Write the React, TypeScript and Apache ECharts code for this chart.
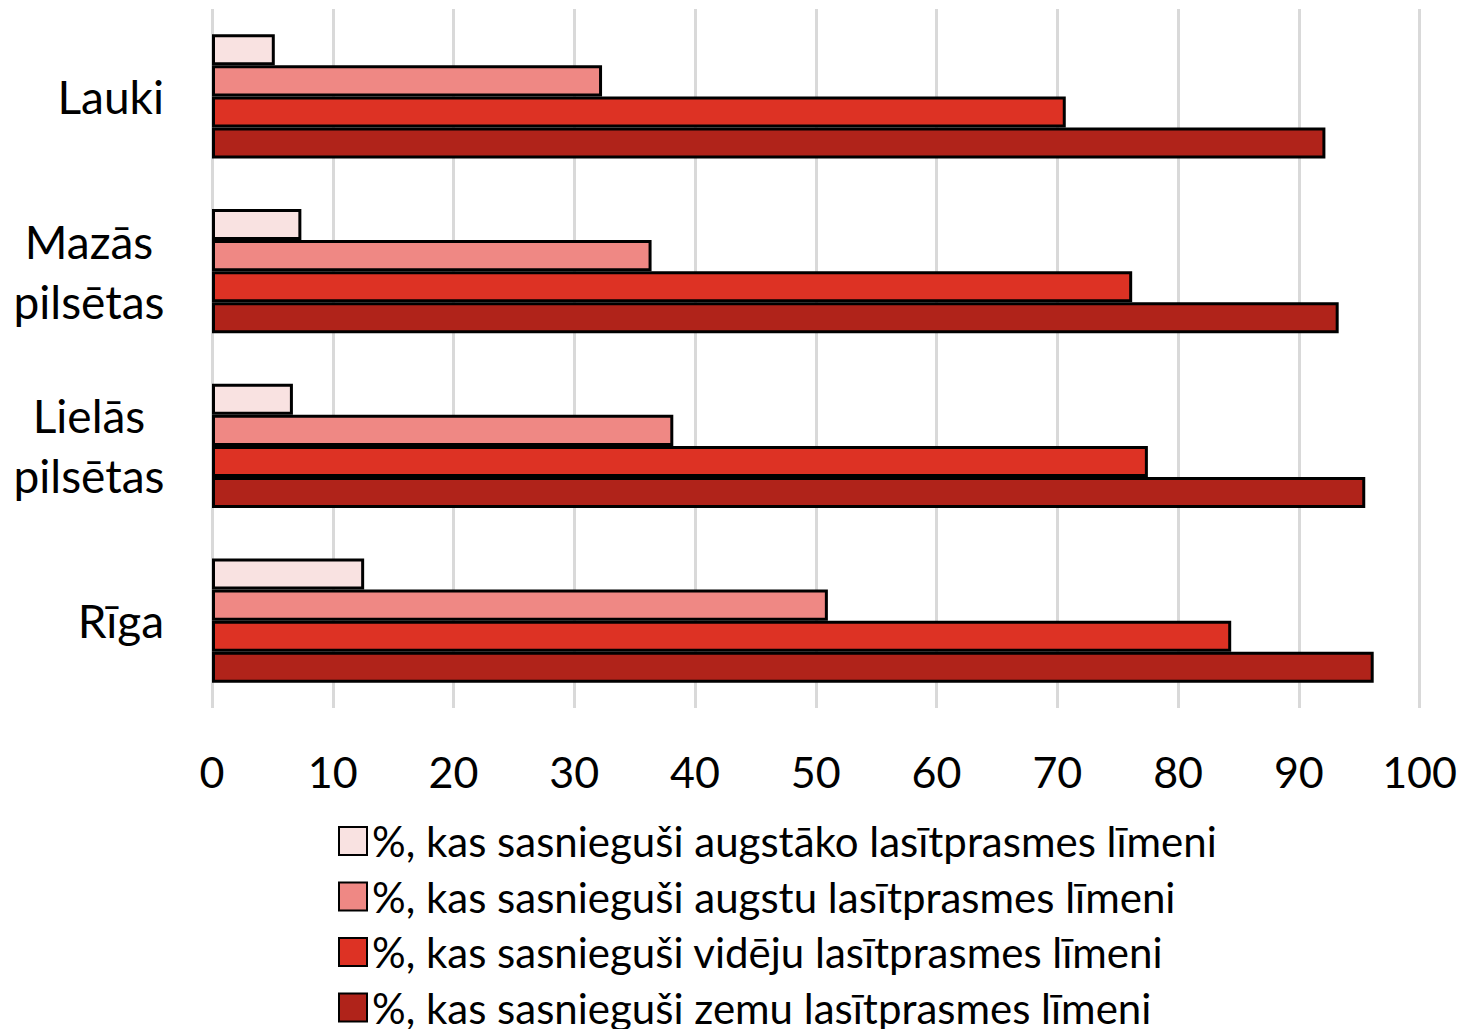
import React, { useEffect, useRef } from "react";
import * as echarts from "echarts";

const categories = ["Rīga", "Lielās\npilsētas", "Mazās\npilsētas", "Lauki"];
const seriesNames = [
  "%, kas sasnieguši augstāko lasītprasmes līmeni",
  "%, kas sasnieguši augstu lasītprasmes līmeni",
  "%, kas sasnieguši vidēju lasītprasmes līmeni",
  "%, kas sasnieguši zemu lasītprasmes līmeni",
];
const augstako = [12.6, 6.7, 7.4, 5.2];
const augstu = [51.0, 38.2, 36.4, 32.3];
const videju = [84.4, 77.5, 76.2, 70.7];
const zemu = [96.2, 95.5, 93.3, 92.2];
const seriesValues = [augstako, augstu, videju, zemu];
const colors = ["#f9e2e1", "#ef8884", "#dd3224", "#b0231a"];
const xTicks = { min: 0, max: 100, interval: 10 };

const FONT = "Lato";

export default function App() {
  const ref = useRef<HTMLDivElement>(null);
  useEffect(() => {
    if (!ref.current) return;
    document.body.style.overflow = "hidden";
    const chart = echarts.init(ref.current, null, { renderer: "svg" });
    chart.setOption({
      animation: false,
      textStyle: { fontFamily: FONT },
      grid: { left: 204, right: 35, top: 1, bottom: 400, containLabel: false },
      xAxis: {
        type: "value",
        min: xTicks.min,
        max: xTicks.max,
        interval: xTicks.interval,
        axisLine: { show: false },
        axisTick: { show: false },
        splitLine: { show: true, lineStyle: { color: "#d9d9d9", width: 3 } },
        axisLabel: { color: "#000", fontSize: 43, fontFamily: FONT, margin: 42 },
      },
      yAxis: {
        type: "category",
        data: categories,
        axisLine: { show: false },
        axisTick: { show: false },
        axisLabel: {
          color: "#000",
          fontSize: 46,
          fontFamily: FONT,
          margin: 48,
          lineHeight: 60,
          align: "right",
          formatter: (v: string) =>
            v.includes("\n")
              ? v.split("\n").map((s) => `{c|${s}}`).join("\n")
              : v,
          rich: {
            c: { width: 150, align: "center", fontSize: 46, fontFamily: FONT, color: "#000", lineHeight: 60 },
          },
        },
      },
      legend: {
        data: seriesNames,
        orient: "vertical",
        left: 325,
        top: 806,
        height: 300,
        itemWidth: 28,
        itemHeight: 28,
        itemGap: 11.5,
        textStyle: { fontSize: 42, fontFamily: FONT, color: "#000", lineHeight: 44 },
        icon: "rect",
      },
      series: seriesNames.map((name, i) => ({
        name,
        type: "bar",
        data: seriesValues[i],
        barGap: "0%",
        barCategoryGap: "29%",
        itemStyle: { color: colors[i], borderColor: "#000", borderWidth: 3 },
      })),
    });
    return () => chart.dispose();
  }, []);
  return <div ref={ref} style={{ width: 1452, height: 1100 }} />;
}
